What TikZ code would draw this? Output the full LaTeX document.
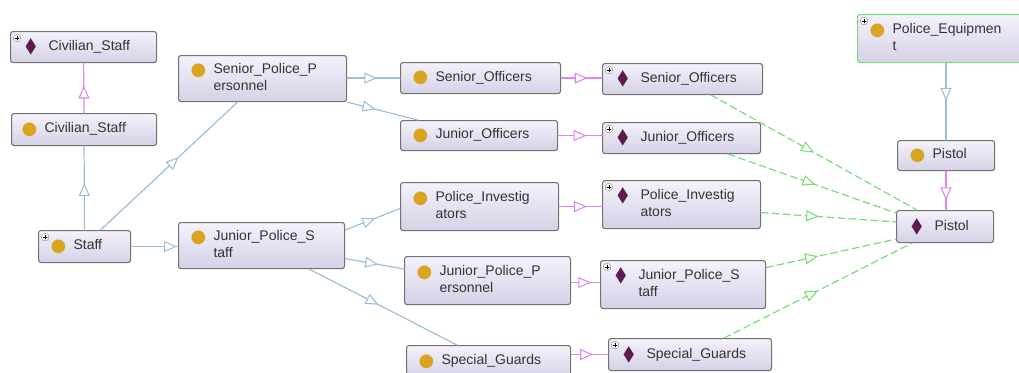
\documentclass[tikz,border=0pt]{standalone}
\usepackage{fontspec}
\setmainfont{Liberation Sans}
\newfontfamily\iconfont{DejaVu Sans}
\usepackage{xcolor}
\usetikzlibrary{arrows.meta,decorations.markings}
\definecolor{boxtop}{HTML}{F4F2FB}
\definecolor{boxbot}{HTML}{D5D1E7}
\definecolor{boxline}{HTML}{727272}
\definecolor{txt}{HTML}{333333}
\definecolor{dotc}{HTML}{D9A521}
\definecolor{diac}{HTML}{5C1A4E}
\definecolor{isac}{HTML}{9CC0DC}
\definecolor{instc}{HTML}{DD88EE}
\definecolor{propc}{HTML}{77DD77}
\newcommand{\clsicon}{\makebox[23pt][l]{\raisebox{-1.5pt}{\textcolor{dotc}{\fontsize{18}{18}\iconfont ●}}}}
\newcommand{\indicon}{\hspace{3pt}\makebox[23pt][l]{\raisebox{-2pt}{\textcolor{diac}{\scalebox{0.85}[1.35]{\fontsize{16}{16}\iconfont ◆}}}}}
\newcommand{\twolines}[2]{\begin{tabular}[t]{@{}l@{}}#1\\#2\end{tabular}}

\begin{document}
\begin{tikzpicture}[x=1pt,y=-1pt,line cap=round,line join=round,
  box/.style={draw=boxline,line width=1.1pt,rounded corners=2.5pt,top color=boxtop,bottom color=boxbot,
    anchor=north west,inner xsep=12pt,inner ysep=0pt,font=\fontsize{14}{16.6}\selectfont,text=txt},
  expd/.style={path picture={
    \draw[boxline!80,fill=white,line width=0.4pt] ([shift={(3pt,-3pt)}]path picture bounding box.north west) rectangle ++(7pt,-7pt);
    \draw[black,line width=0.6pt] ([shift={(4.5pt,-6.5pt)}]path picture bounding box.north west) -- ++(4pt,0pt)
      ([shift={(6.5pt,-4.5pt)}]path picture bounding box.north west) -- ++(0pt,-4pt);}},
  midtip/.style={postaction={decorate},decoration={markings,mark=at position #1 with {\arrow{Triangle[length=13pt,width=11pt,fill=white,line width=1.1pt]}}}},
  isa/.style={draw=isac,line width=1.2pt,midtip=#1},
  inst/.style={draw=instc,line width=1.2pt,midtip=#1},
  prop/.style={draw=propc,line width=1.2pt,dash pattern=on 7pt off 4pt,midtip=#1}]
\useasboundingbox (0,0) rectangle (1019,372);
% classes
\node[box,expd,text width=122pt,minimum height=31pt] (civi) at (10,31) {\indicon Civilian\_Staff};
\node[box,text width=125pt,minimum height=32pt,inner xsep=10pt] (civc) at (11,113) {\clsicon Civilian\_Staff};
\node[box,expd,text width=68pt,minimum height=32pt] (staff) at (38,230) {\clsicon Staff};
\node[box,text width=144pt,minimum height=46pt] (seniorpp) at (178,55) {\clsicon\twolines{Senior\_Police\_P}{ersonnel}};
\node[box,text width=142pt,minimum height=46pt] (juniorps) at (178,222) {\clsicon\twolines{Junior\_Police\_S}{taff}};
\node[box,text width=136pt,minimum height=31pt] (senioroffc) at (400,62) {\clsicon Senior\_Officers};
\node[box,text width=133pt,minimum height=30pt] (junioroffc) at (400,120) {\clsicon Junior\_Officers};
\node[box,text width=134pt,minimum height=48pt] (policeinvc) at (400,182) {\clsicon\twolines{Police\_Investig}{ators}};
\node[box,text width=142pt,minimum height=48pt] (juniorppc) at (404,256) {\clsicon\twolines{Junior\_Police\_P}{ersonnel}};
\node[box,text width=140pt,minimum height=32pt] (guardsc) at (406,345) {\clsicon Special\_Guards};
\node[box,expd,draw=propc,text width=148pt,minimum height=48pt] (equip) at (857,14) {\clsicon\twolines{Police\_Equipmen}{t}};
\node[box,text width=73pt,minimum height=30pt] (pistolc) at (897,140) {\clsicon Pistol};
% individuals
\node[box,expd,text width=136pt,minimum height=31pt] (senioroffi) at (602,63) {\indicon Senior\_Officers};
\node[box,expd,text width=134pt,minimum height=31pt] (junioroffi) at (602,122) {\indicon Junior\_Officers};
\node[box,expd,text width=134pt,minimum height=48pt] (policeinvi) at (602,180) {\indicon\twolines{Police\_Investig}{ators}};
\node[box,expd,text width=141pt,minimum height=48pt] (juniorpsi) at (600,260) {\indicon\twolines{Junior\_Police\_S}{taff}};
\node[box,expd,text width=139pt,minimum height=32pt] (guardsi) at (608,338) {\indicon Special\_Guards};
\node[box,text width=73pt,minimum height=32pt] (pistoli) at (896,210) {\indicon Pistol};

% subclass links
\draw[isa=0.56] (staff.north) -- (civc.south);
\draw[isa=0.57] ([xshift=16pt]staff.north) -- ([xshift=-25pt]seniorpp.south);
\draw[isa=0.98] (staff.east) -- (juniorps.west |- staff.east);
\draw[isa=0.57] (seniorpp.east |- senioroffc.west) -- (senioroffc.west);
\draw[isa=0.4] (seniorpp.south east) -- ([xshift=18pt]junioroffc.north west);
\draw[isa=0.55] ([yshift=-8pt]juniorps.north east) -- ([yshift=-2pt]policeinvc.west);
\draw[isa=0.56] ([yshift=-13pt]juniorps.east) -- ([yshift=-13pt]juniorppc.north west);
\draw[isa=0.47] ([xshift=-36pt]juniorps.south east) -- ([xshift=51pt]guardsc.north west);
\draw[isa=0.49] (pistolc.north |- equip.south) -- (pistolc.north);
% instance links
\draw[inst=0.55] (civc.north) -- (civi.south);
\draw[inst=0.65] (senioroffc.east) -- (senioroffi.west |- senioroffc.east);
\draw[inst=0.65] (junioroffc.east) -- (junioroffi.west |- junioroffc.east);
\draw[inst=0.65] (policeinvc.east) -- (policeinvi.west |- policeinvc.east);
\draw[inst=0.7] ([yshift=-2pt]juniorppc.east) -- ([yshift=-2pt]juniorpsi.west |- juniorppc.east);
\draw[inst=0.6] (guardsc.east |- guardsi.west) -- (guardsi.west);
\draw[inst=0.75] (pistolc.south) -- (pistolc.south |- pistoli.north);
% hasWeapon
\draw[prop=0.5] ([xshift=-52pt]senioroffi.south east) -- ([xshift=21pt]pistoli.north west);
\draw[prop=0.52] ([xshift=-33pt]junioroffi.south east) -- ([yshift=-3pt]pistoli.north west);
\draw[prop=0.43] ([yshift=-8pt]policeinvi.east) -- ([yshift=-12pt]pistoli.north west);
\draw[prop=0.4] ([yshift=17pt]juniorpsi.east) -- ([yshift=4pt]pistoli.south west);
\draw[prop=0.5] ([xshift=-48pt]guardsi.north east) -- ([xshift=16pt]pistoli.south west);
\end{tikzpicture}
\end{document}
